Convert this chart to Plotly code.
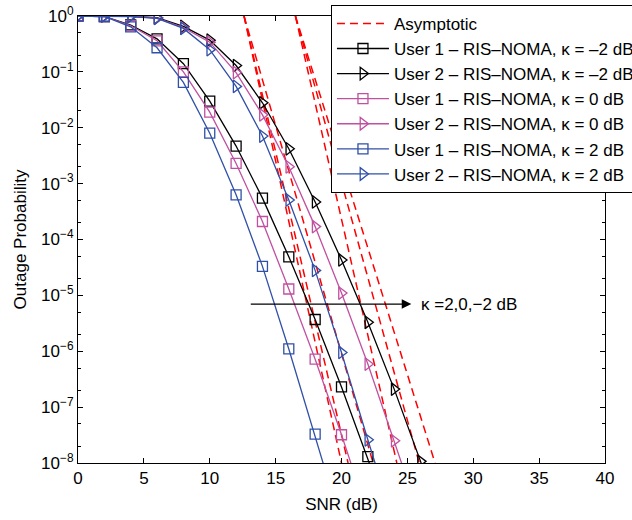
import plotly.graph_objects as go
import numpy as np

# ---------------- data ----------------
snr_u1 = [0, 2, 4, 6, 8, 10, 12, 14, 16, 18, 20, 22, 24]
snr_u2 = [0, 2, 4, 6, 8, 10, 12, 14, 16, 18, 20, 22, 24, 26, 28]

# User 1 (squares)
u1_km2 = [1.0, 0.98, 0.69, 0.39, 0.14, 0.030, 4.7e-3, 5.5e-4, 4.9e-5, 3.7e-6, 2.3e-7, 1.3e-8, 6e-10]
u1_k0 = [1.0, 0.98, 0.67, 0.36, 0.10, 0.019, 2.3e-3, 2.1e-4, 1.3e-5, 7.2e-7, 3.2e-8, 1.2e-9]
u1_k2 = [1.0, 0.98, 0.64, 0.27, 0.065, 8.0e-3, 6.3e-4, 3.3e-5, 1.1e-6, 3.3e-8, 8e-10]

# User 2 (triangles)
u2_km2 = [1.0, 1.0, 0.99, 0.93, 0.65, 0.37, 0.13, 0.028, 4.2e-3, 4.7e-4, 4.3e-5, 3.3e-6, 2.1e-7, 1.07e-8, 4e-10]
u2_k0 = [1.0, 1.0, 0.99, 0.92, 0.62, 0.34, 0.097, 0.017, 2.0e-3, 1.7e-4, 1.1e-5, 5.9e-7, 2.5e-8, 1.0e-9]
u2_k2 = [1.0, 1.0, 0.98, 0.91, 0.60, 0.25, 0.055, 7.1e-3, 5.1e-4, 2.8e-5, 9.5e-7, 2.6e-8, 8e-10]

# Asymptotic lines: SNR (dB) where the asymptote equals 1 and 1e-8
asym_start = [12.6, 12.6, 12.6, 16.5, 16.5, 16.5]
asym_end = [20.0, 20.5, 22.4, 24.2, 25.9, 27.1]
asym_p = [1.0, 1e-8]

ytick_vals = [1, 1e-1, 1e-2, 1e-3, 1e-4, 1e-5, 1e-6, 1e-7, 1e-8]
ytick_text = ["10<sup>0</sup>", "10<sup>−1</sup>", "10<sup>−2</sup>", "10<sup>−3</sup>",
              "10<sup>−4</sup>", "10<sup>−5</sup>", "10<sup>−6</sup>", "10<sup>−7</sup>",
              "10<sup>−8</sup>"]
xtick_vals = [0, 5, 10, 15, 20, 25, 30, 35, 40]

names = ["User 1 – RIS–NOMA, κ = –2 dB", "User 2 – RIS–NOMA, κ = –2 dB",
         "User 1 – RIS–NOMA, κ = 0 dB", "User 2 – RIS–NOMA, κ = 0 dB",
         "User 1 – RIS–NOMA, κ = 2 dB", "User 2 – RIS–NOMA, κ = 2 dB"]

arrow_from = (13.0, 7e-6)
arrow_to = (25.3, 7e-6)
arrow_label = "κ =2,0,−2 dB"

# ---------------- styles ----------------
BLACK = "#000000"
MAG = "#c050a0"
BLUE = "#3050a8"
RED = "#ff0000"
FONT = "Liberation Sans, Arial, sans-serif"
FS = 17

fig = go.Figure()

for i, (s0, s1) in enumerate(zip(asym_start, asym_end)):
    fig.add_trace(go.Scatter(
        x=[s0, s1], y=asym_p, mode="lines",
        line=dict(color=RED, width=1.5, dash="8px,5px"),
        name="Asymptotic", showlegend=(i == 0), legendrank=1))

series = [
    (snr_u1, u1_km2, BLACK, "square-open", names[0]),
    (snr_u2, u2_km2, BLACK, "triangle-right-open", names[1]),
    (snr_u1, u1_k0, MAG, "square-open", names[2]),
    (snr_u2, u2_k0, MAG, "triangle-right-open", names[3]),
    (snr_u1, u1_k2, BLUE, "square-open", names[4]),
    (snr_u2, u2_k2, BLUE, "triangle-right-open", names[5]),
]
for k, (xs, ys, col, sym, nm) in enumerate(series):
    fig.add_trace(go.Scatter(
        x=xs[:len(ys)], y=ys, mode="lines+markers", name=nm,
        line=dict(color=col, width=1.3),
        marker=dict(symbol=sym, size=10 if "square" in sym else 11,
                    color=col, line=dict(color=col, width=1.3)),
        legendrank=2 + k))

fig.add_annotation(
    x=arrow_to[0], y=np.log10(arrow_to[1]),
    ax=arrow_from[0], ay=np.log10(arrow_from[1]),
    xref="x", yref="y", axref="x", ayref="y",
    showarrow=True, arrowhead=2, arrowsize=1.6, arrowwidth=1.2,
    arrowcolor=BLACK, text="")
fig.add_annotation(
    x=arrow_to[0] + 0.6, y=np.log10(arrow_to[1]), xref="x", yref="y",
    text=arrow_label, showarrow=False, xanchor="left",
    font=dict(size=FS, color=BLACK, family=FONT))

axis_common = dict(
    showline=True, linecolor=BLACK, linewidth=1, mirror="allticks",
    ticks="inside", ticklen=5, tickcolor=BLACK, showgrid=False, zeroline=False,
    tickfont=dict(size=FS, color=BLACK, family=FONT),
)
fig.update_xaxes(range=[0, 40], tickvals=xtick_vals,
                 title=dict(text="SNR (dB)", font=dict(size=FS, color=BLACK, family=FONT), standoff=10),
                 **axis_common)
fig.update_yaxes(type="log", range=[-8, 0], tickvals=ytick_vals, ticktext=ytick_text,
                 minor=dict(ticks="inside", ticklen=3, tickcolor=BLACK, showgrid=False),
                 title=dict(text="Outage Probability", font=dict(size=FS, color=BLACK, family=FONT), standoff=10),
                 **axis_common)

fig.update_layout(
    width=632, height=520,
    margin=dict(l=78, r=27, t=16, b=57, autoexpand=False),
    paper_bgcolor="white", plot_bgcolor="white",
    font=dict(family=FONT, color=BLACK),
    legend=dict(x=0.48, y=1.025, xanchor="left", yanchor="top",
                bgcolor="white", bordercolor=BLACK, borderwidth=1,
                font=dict(size=FS, color=BLACK, family=FONT),
                itemwidth=52, tracegroupgap=0),
    showlegend=True,
)

fig.write_html("out.html", config={"displayModeBar": False},
               post_script="document.body.style.margin='0px';")
